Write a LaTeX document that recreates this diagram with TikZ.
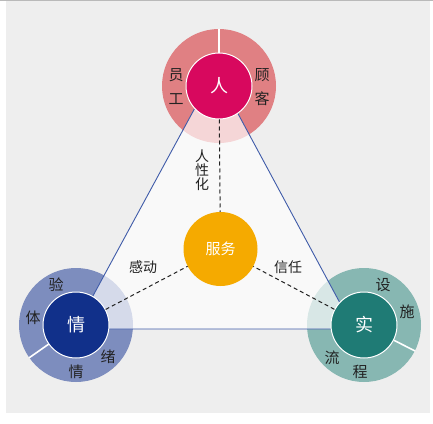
\documentclass[tikz,border=0pt]{standalone}
\usepackage{fontspec}
\setmainfont{Noto Sans CJK SC}
\definecolor{bg}{HTML}{EEEEEE}
\definecolor{pinkring}{HTML}{E08083}
\definecolor{pinkin}{HTML}{D8085E}
\definecolor{bluering}{HTML}{7D8DBE}
\definecolor{bluein}{HTML}{11308A}
\definecolor{tealring}{HTML}{87B7B2}
\definecolor{tealin}{HTML}{1F7B75}
\definecolor{srvorange}{HTML}{F5AA00}
\definecolor{lineblue}{HTML}{3F5BA9}
\definecolor{txt}{HTML}{222222}
\tikzset{
  ring/.style={circle, minimum size=114pt, inner sep=0pt},
  innerc/.style={circle, minimum size=66pt, inner sep=0pt, draw=white, line width=1pt, text=white, font=\fontsize{18}{18}\selectfont},
  lbl/.style={text=txt, inner sep=0pt, font=\fontsize{15}{15}\selectfont},
  sepline/.style={white, line width=1.6pt},
  dashline/.style={dashed, dash pattern=on 4pt off 3pt, line width=1pt, draw=txt},
}
\begin{document}
\begin{tikzpicture}[x=1pt,y=-1pt]
\useasboundingbox (0,0) rectangle (433,423);
\fill[white] (0,0) rectangle (433,423);
\fill[bg] (6,1) rectangle (430,413);
\draw[gray!55, line width=1pt] (0,0.5) -- (433,0.5);
% outer rings
\node[ring, fill=pinkring] (topring) at (219,86) {};
\node[ring, fill=bluering] (leftring) at (76,325) {};
\node[ring, fill=tealring] (rightring) at (364,325) {};
% triangle
\coordinate (apex) at (215,71);
\coordinate (bl) at (75,329);
\coordinate (br) at (354,329);
\fill[white, fill opacity=0.68] (apex) -- (bl) -- (br) -- cycle;
\draw[lineblue, line width=0.9pt, line join=miter] (apex) -- (bl) -- (br) -- cycle;
% inner circles
\node[innerc, fill=pinkin] (top) at (219,86) {人};
\node[innerc, fill=bluein] (left) at (76,325) {情};
\node[innerc, fill=tealin] (right) at (364,325) {实};
\node[circle, minimum size=74pt, inner sep=0pt, fill=srvorange, text=white, font=\fontsize{15}{15}\selectfont] (srv) at (220.5,249) {服务};
% separators
\draw[sepline] (topring.north) -- (top.north);
\draw[sepline] (leftring.215) -- (left.215);
\draw[sepline] (rightring.-27) -- (right.-27);
% dashed connectors
\draw[dashline] (top) -- (srv);
\draw[dashline] (left) -- (srv);
\draw[dashline] (right) -- (srv);
% labels
\node[lbl] (t1) at (176,75) {员};
\node[lbl] (t2) at (176,99) {工};
\node[lbl] (t3) at (262,75) {顾};
\node[lbl] (t4) at (262,99) {客};
\node[lbl] (l1) at (56,285) {验};
\node[lbl] (l2) at (33,318) {体};
\node[lbl] (l3) at (108,357) {绪};
\node[lbl] (l4) at (76,372) {情};
\node[lbl] (r1) at (383,285) {设};
\node[lbl] (r2) at (407,312) {施};
\node[lbl] (r3) at (332,358) {流};
\node[lbl] (r4) at (360,372) {程};
\node[lbl, align=center, font=\fontsize{14}{14}\selectfont] (e1) at (202,170) {人\\性\\化};
\node[lbl, font=\fontsize{14}{14}\selectfont] (e2) at (143,267) {感动};
\node[lbl, font=\fontsize{14}{14}\selectfont] (e3) at (288,267) {信任};
\end{tikzpicture}
\end{document}
